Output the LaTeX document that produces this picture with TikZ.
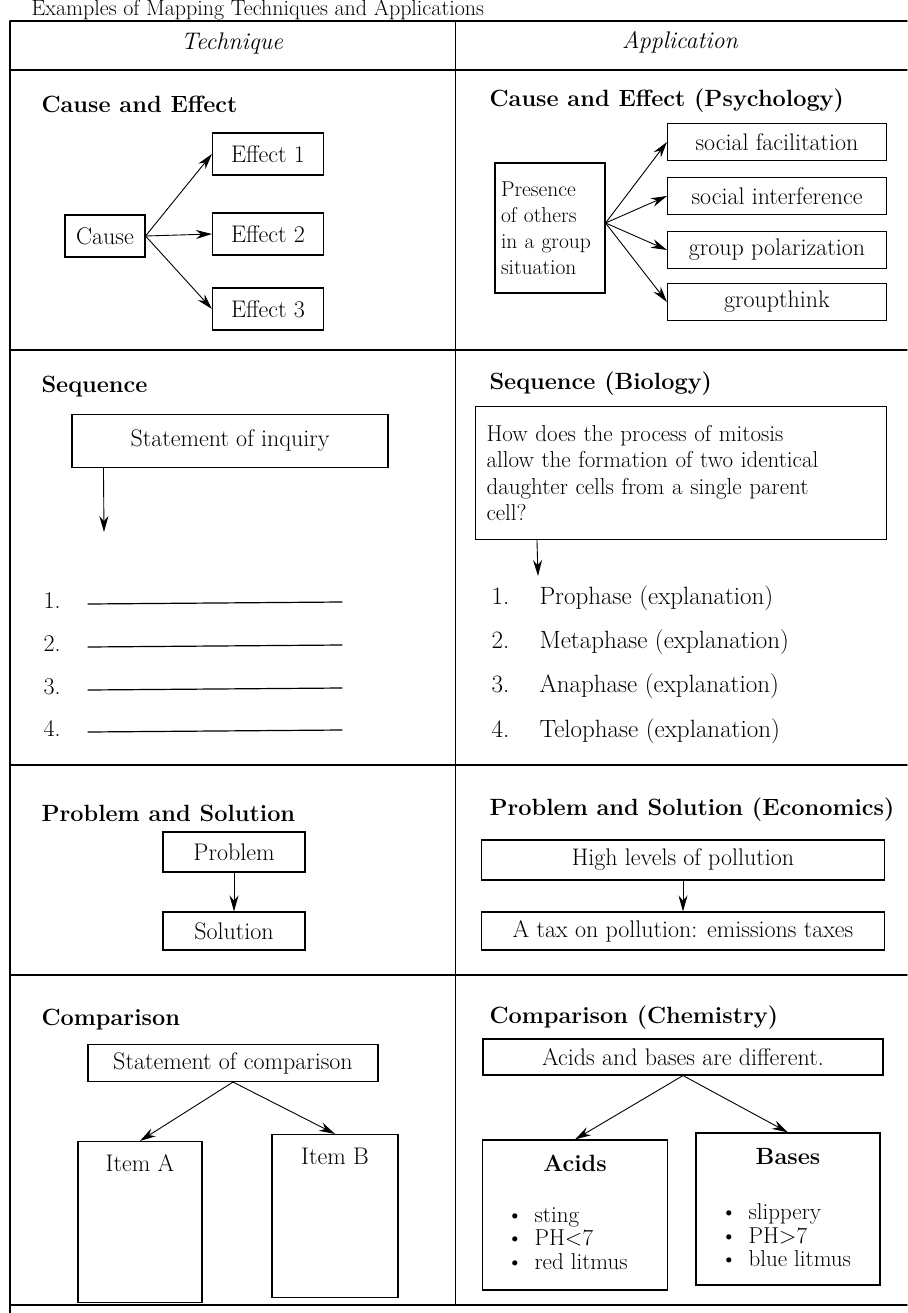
\documentclass[tikz,border=0pt]{standalone}
\usepackage{fontspec}
\usetikzlibrary{arrows.meta,calc}

\newcommand{\txtsize}{\fontsize{24}{28}\selectfont}

\begin{document}
\begin{tikzpicture}[x=1pt, y=-1pt, line cap=round,
  every node/.style={font=\txtsize},
  box/.style={draw, line width=1.1pt, inner sep=0pt},
  arr/.style={-{Stealth[length=16pt,width=9pt]}, line width=0.9pt},
  rule/.style={line width=1.4pt},
  heading/.style={anchor=west, font=\fontsize{23.5}{28}\selectfont\bfseries}]

  \useasboundingbox (0,0) rectangle (907,1313);

  % table frame
  \node[anchor=base west, font=\fontsize{22}{26}\selectfont] (title) at (28,16) {Examples of Mapping Techniques and Applications};
  \draw[rule] (10,21) -- (907,21);
  \draw[rule] (10,70) -- (907,70);
  \draw[rule] (10,350) -- (907,350);
  \draw[rule] (10,765) -- (907,765);
  \draw[rule] (10,975) -- (907,975);
  \draw[rule] (10,1305) -- (907,1305);
  \draw[rule] (10,21) -- (10,1313);
  \draw[line width=1pt] (455,21) -- (455,1305);
  \node[font=\txtsize\itshape] (htech) at (232,44) {Technique};
  \node[font=\txtsize\itshape] (happ) at (680,42) {Application};

  % cause and effect
  \node[heading] (ce) at (38,104) {Cause and Effect};
  \node[box, minimum width=80pt, minimum height=42pt] (cause) at (105,236) {Cause};
  \node[box, minimum width=111pt, minimum height=42pt] (eff1) at (268,154) {Effect 1};
  \node[box, minimum width=111pt, minimum height=42pt] (eff2) at (268,234) {Effect 2};
  \node[box, minimum width=111pt, minimum height=42pt] (eff3) at (268,309) {Effect 3};
  \draw[arr] (cause.east) -- (eff1.west);
  \draw[arr] (cause.east) -- (eff2.west);
  \draw[arr] (cause.east) -- (eff3.west);

  \node[heading] (cepsy) at (486,101) {Cause and Effect (Psychology)};
  \node[box, minimum width=110pt, minimum height=130pt, text width=98pt, align=left,
        font=\fontsize{21.5}{26}\selectfont] (presence) at (550,228)
        {Presence\\of others\\in a group\\situation};
  \node[box, minimum width=219pt, minimum height=37pt] (facil) at (777,142) {social facilitation};
  \node[box, minimum width=219pt, minimum height=37pt] (interf) at (777,196) {social interference};
  \node[box, minimum width=219pt, minimum height=37pt] (polar) at (777,250) {group polarization};
  \node[box, minimum width=219pt, minimum height=37pt] (gthink) at (777,302) {groupthink};
  \foreach \t in {facil,interf,polar,gthink}
    \draw[arr] ([yshift=5pt]presence.east) -- (\t.west);

  % sequence
  \node[heading] (seq) at (38,387) {Sequence};
  \node[box, minimum width=316pt, minimum height=53pt] (inquiry) at (230,441) {Statement of inquiry};
  \coordinate (seqend) at (104,532);
  \draw[arr] ([xshift=32pt]inquiry.south west) -- (seqend);
  \foreach \n/\y in {1/603,2/646,3/689,4/731} {
    \node[anchor=base west] (blank\n) at (40,\y+5) {\n.};
    \draw[line width=1.2pt] (88,\y+1) -- (342,\y-1);
  }

  \node[heading] (seqbio) at (486,384) {Sequence (Biology)};
  \node[box, minimum width=411pt, minimum height=133pt, text width=389pt, align=left,
        font=\fontsize{23}{26.5}\selectfont] (question) at (681,473)
        {How does the process of mitosis\\allow the formation of two identical\\daughter cells from a single parent\\cell?};
  \coordinate (bioend) at (538,576);
  \draw[arr] ([xshift=62pt]question.south west) -- (bioend);
  \foreach \n/\y/\t in {1/604/Prophase,2/648/Metaphase,3/692/Anaphase,4/737/Telophase} {
    \node[anchor=base west, font=\fontsize{25}{28}\selectfont] (phnum\n) at (488,\y) {\n.};
    \node[anchor=base west, font=\fontsize{25}{28}\selectfont] (phase\n) at (536,\y) {\t\ (explanation)};
  }

  % problem and solution
  \node[heading] (ps) at (38,813) {Problem and Solution};
  \node[box, minimum width=142pt, minimum height=40pt] (problem) at (234,852) {Problem};
  \node[box, minimum width=142pt, minimum height=38pt] (solution) at (234,931) {Solution};
  \draw[arr] (problem.south) -- (solution.north);

  \node[heading] (pseco) at (486,810) {Problem and Solution (Economics)};
  \node[box, minimum width=403pt, minimum height=40pt] (pollution) at (683,860) {High levels of pollution};
  \node[box, minimum width=403pt, minimum height=38pt] (tax) at (683,931) {A tax on pollution: emissions taxes};
  \draw[arr] (pollution.south) -- (tax.north);

  % comparison
  \node[heading] (cmp) at (38,1020) {Comparison};
  \node[box, minimum width=290pt, minimum height=37pt] (stcmp) at (233,1063) {Statement of comparison};
  \node[box, minimum width=124pt, minimum height=161pt] (itemA) at (140,1222) {};
  \node[box, minimum width=126pt, minimum height=163pt] (itemB) at (335,1216) {};
  \node (itemAlab) at ([yshift=-22pt]itemA.north) {Item A};
  \node (itemBlab) at ([yshift=-22pt]itemB.north) {Item B};
  \draw[arr] (stcmp.south) -- (itemA.north);
  \draw[arr] (stcmp.south) -- (itemB.north);

  \node[heading] (cmpchem) at (486,1018) {Comparison (Chemistry)};
  \node[box, minimum width=400pt, minimum height=36pt] (diff) at (683,1057) {Acids and bases are different.};
  \node[box, minimum width=185pt, minimum height=150pt] (acids) at (575,1215) {};
  \node[box, minimum width=184pt, minimum height=152pt] (bases) at (788,1209) {};
  \draw[arr] (diff.south) -- (acids.north);
  \draw[arr] (diff.south) -- (bases.north);
  \node[font=\fontsize{23.5}{28}\selectfont\bfseries] (acidtitle) at ([yshift=-24pt]acids.north) {Acids};
  \node[font=\fontsize{23.5}{28}\selectfont\bfseries] (basetitle) at ([yshift=-24pt]bases.north) {Bases};
  \node[anchor=north west, align=left, font=\fontsize{23}{23.5}\selectfont] (acidlist) at (503,1204)
        {\textbullet\enspace sting\\\textbullet\enspace PH<7\\\textbullet\enspace red litmus};
  \node[anchor=north west, align=left, font=\fontsize{23}{23.5}\selectfont] (baselist) at (717,1200)
        {\textbullet\enspace slippery\\\textbullet\enspace PH>7\\\textbullet\enspace blue litmus};

\end{tikzpicture}
\end{document}
